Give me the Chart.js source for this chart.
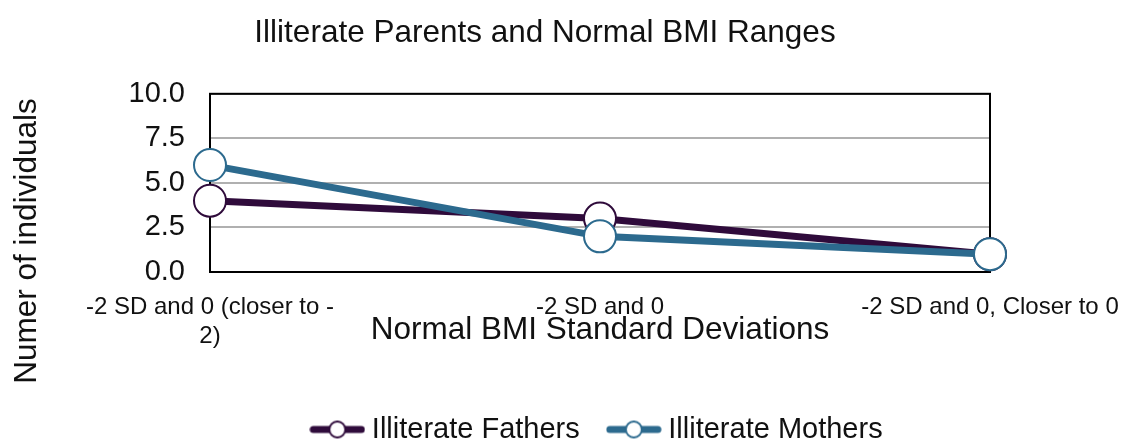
<!DOCTYPE html>
<html>
<head>
<meta charset="utf-8">
<script src="https://cdn.jsdelivr.net/npm/chart.js@4.4.1/dist/chart.umd.min.js"></script>
<style>
    html, body { margin: 0; padding: 0; background: #fff; }
</style>
</head>
<body>
<canvas id="myLineChart" width="1121" height="441"></canvas>
<script>
// chart data
var categories = [['-2 SD and 0 (closer to -', '2)'], '-2 SD and 0', '-2 SD and 0, Closer to 0'];
var seriesNames = ['Illiterate Fathers', 'Illiterate Mothers'];
var fathersValues = [4, 3, 1];
var mothersValues = [6, 2, 1];
var yMin = 0;
var yMax = 10;
var yStep = 2.5;

var chartTitle = 'Illiterate Parents and Normal BMI Ranges';
var xTitle = 'Normal BMI Standard Deviations';
var yTitle = 'Numer of individuals';

var fathersColor = '#2f0b3b';
var mothersColor = '#2c6a8e';
var textColor = '#111';
var fontName = '"Liberation Sans", Arial, sans-serif';

// legend marker: line with an open circle on it
function legendMarker(color) {
    var c = document.createElement('canvas');
    c.width = 56;
    c.height = 22;
    var g = c.getContext('2d');
    g.strokeStyle = color;
    g.lineWidth = 7;
    g.lineCap = 'round';
    g.beginPath();
    g.moveTo(4, 11);
    g.lineTo(52, 11);
    g.stroke();
    g.beginPath();
    g.arc(28, 11, 8, 0, Math.PI * 2);
    g.fillStyle = '#fff';
    g.fill();
    g.lineWidth = 2;
    g.stroke();
    return c;
}
var legendMarkers = [legendMarker(fathersColor), legendMarker(mothersColor)];

// plot frame + rotated y title
var frameAndTitle = {
    id: 'frameAndTitle',
    beforeDatasetsDraw: function (chart) {
        var a = chart.chartArea;
        var ctx = chart.ctx;
        ctx.save();
        ctx.strokeStyle = '#000';
        ctx.lineWidth = 2;
        ctx.strokeRect(a.left, a.top, a.right - a.left, a.bottom - a.top);
        ctx.restore();
    },
    afterDraw: function (chart) {
        var ctx = chart.ctx;
        ctx.save();
        ctx.translate(27, 241);
        ctx.rotate(-Math.PI / 2);
        ctx.font = '31.5px ' + fontName;
        ctx.fillStyle = textColor;
        ctx.textAlign = 'center';
        ctx.textBaseline = 'middle';
        ctx.fillText(yTitle, 0, 0);
        ctx.restore();
    }
};

var ctx = document.getElementById('myLineChart').getContext('2d');

var myLineChart = new Chart(ctx, {
    type: 'line',
    data: {
        labels: categories,
        datasets: [{
            label: seriesNames[0],
            data: fathersValues,
            borderColor: fathersColor,
            backgroundColor: '#fff',
            borderWidth: 7,
            pointRadius: 16,
            pointHoverRadius: 16,
            pointBorderWidth: 2,
            pointBackgroundColor: '#fff',
            pointBorderColor: fathersColor,
            order: 2,
            clip: false
        }, {
            label: seriesNames[1],
            data: mothersValues,
            borderColor: mothersColor,
            backgroundColor: '#fff',
            borderWidth: 7,
            pointRadius: 16,
            pointHoverRadius: 16,
            pointBorderWidth: 2,
            pointBackgroundColor: '#fff',
            pointBorderColor: mothersColor,
            order: 1,
            clip: false
        }]
    },
    options: {
        responsive: false,
        animation: false,
        layout: {
            padding: { left: 100, right: 131, top: 0, bottom: -13 }
        },
        scales: {
            x: {
                offset: false,
                grid: { display: false, drawTicks: false },
                border: { display: true, color: '#000', width: 2 },
                ticks: {
                    color: textColor,
                    font: { family: fontName, size: 24, lineHeight: 1.2 },
                    padding: 21,
                    maxRotation: 0,
                    autoSkip: false
                },
                title: {
                    display: true,
                    text: xTitle,
                    color: textColor,
                    font: { family: fontName, size: 31.5, lineHeight: 1.2 },
                    padding: { top: 0, bottom: 32 }
                },
                afterFit: function (scale) {
                    scale.height = 109;
                    scale.paddingLeft = 0;
                    scale.paddingRight = 0;
                }
            },
            y: {
                min: yMin,
                max: yMax,
                grid: { color: '#b0b0b0', lineWidth: 2, drawTicks: false },
                border: { display: true, color: '#000', width: 2 },
                ticks: {
                    stepSize: yStep,
                    color: textColor,
                    font: { family: fontName, size: 29 },
                    padding: 25,
                    callback: function (value) { return value.toFixed(1); }
                },
                afterFit: function (scale) {
                    scale.width = 110;
                }
            }
        },
        plugins: {
            title: {
                display: true,
                text: chartTitle,
                color: textColor,
                font: { family: fontName, size: 31.5, weight: 'normal', lineHeight: 1.2 },
                padding: { top: 14, bottom: 42 }
            },
            legend: {
                position: 'bottom',
                fullSize: false,
                labels: {
                    usePointStyle: true,
                    pointStyleWidth: 40,
                    color: textColor,
                    font: { family: fontName, size: 29 },
                    padding: 34,
                    sort: function (a, b) { return a.datasetIndex - b.datasetIndex; },
                    generateLabels: function (chart) {
                        var items = Chart.defaults.plugins.legend.labels.generateLabels(chart);
                        items.forEach(function (item) {
                            item.pointStyle = legendMarkers[item.datasetIndex];
                        });
                        return items;
                    }
                }
            },
            tooltip: { enabled: false }
        }
    },
    plugins: [frameAndTitle]
});
</script>
</body>
</html>
